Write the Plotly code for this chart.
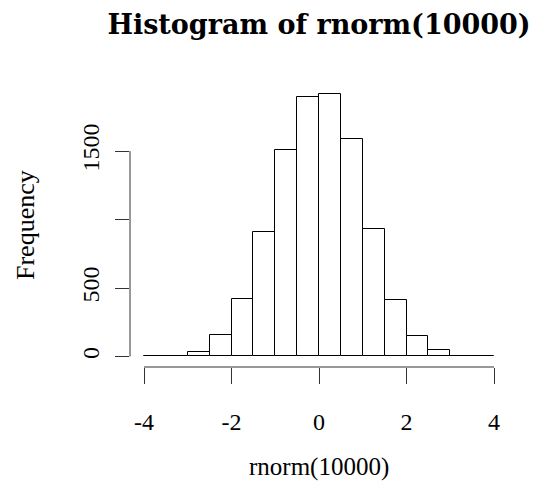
import plotly.graph_objects as go

# Histogram data (bin edges and counts)
bin_edges = [-4.0, -3.5, -3.0, -2.5, -2.0, -1.5, -1.0, -0.5, 0.0, 0.5, 1.0, 1.5, 2.0, 2.5, 3.0, 3.5, 4.0]
counts = [1, 6, 32, 160, 423, 907, 1510, 1892, 1921, 1586, 932, 416, 153, 48, 7, 1]
x_ticks = [-4, -2, 0, 2, 4]
y_ticks = [0, 500, 1000, 1500]
y_tick_labels = ["0", "500", "", "1500"]

title_text = "Histogram of rnorm(10000)"
x_label = "rnorm(10000)"
y_label = "Frequency"

centers = [(a + b) / 2 for a, b in zip(bin_edges[:-1], bin_edges[1:])]
widths = [b - a for a, b in zip(bin_edges[:-1], bin_edges[1:])]

FONT = "Liberation Serif"
# page has an 8px body margin; figure is sized to fill the rest of the window
W, H = 531, 495
L, R, T, B = 122, 30.5, 75, 136

fig = go.Figure()
fig.add_trace(go.Bar(
    x=centers, y=counts, width=widths,
    marker=dict(color="white", line=dict(color="black", width=1)),
    hoverinfo="x+y", showlegend=False,
))

xr = bin_edges[-1] - bin_edges[0]
ymax = max(counts)
fig.update_layout(
    width=W, height=H,
    margin=dict(l=L, r=R, t=T, b=B, pad=0),
    paper_bgcolor="white", plot_bgcolor="white",
    font=dict(family=FONT, size=24, color="black"),
    bargap=0,
    title=dict(text="<b>" + title_text + "</b>", x=0.5, xanchor="center", xref="paper",
               y=1 - 17 / H, yanchor="middle", yref="container",
               font=dict(family="DejaVu Serif", size=27, color="black")),
    xaxis=dict(range=[bin_edges[0] - 0.04 * xr, bin_edges[-1] + 0.04 * xr],
               tickvals=x_ticks, ticktext=[str(v) for v in x_ticks],
               ticks="outside", ticklen=16, tickwidth=1, tickcolor="#333",
               showline=False, showgrid=False, zeroline=False,
               ticklabelstandoff=17, tickfont=dict(size=24)),
    yaxis=dict(range=[-0.04 * ymax, 1.04 * ymax],
               tickvals=y_ticks, ticktext=y_tick_labels, tickangle=-90,
               ticks="outside", ticklen=14, tickwidth=1, tickcolor="#333",
               showline=False, showgrid=False, zeroline=False,
               ticklabelstandoff=6, tickfont=dict(size=24)),
    shapes=[
        dict(type="line", xref="x", yref="paper", x0=x_ticks[0], x1=x_ticks[-1], y0=0, y1=0,
             line=dict(color="#333", width=1)),
        dict(type="line", xref="paper", yref="y", x0=0, x1=0, y0=y_ticks[0], y1=y_ticks[-1],
             line=dict(color="#333", width=1)),
    ],
    annotations=[
        dict(text=x_label, xref="paper", yref="paper", x=0.5, y=0, xanchor="center",
             yanchor="middle", yshift=-100, showarrow=False, font=dict(size=25)),
        dict(text=y_label, xref="paper", yref="paper", x=0, y=0.5, xanchor="center",
             yanchor="middle", xshift=-105, textangle=-90, showarrow=False, font=dict(size=26)),
    ],
)

fig.write_html("out.html")
